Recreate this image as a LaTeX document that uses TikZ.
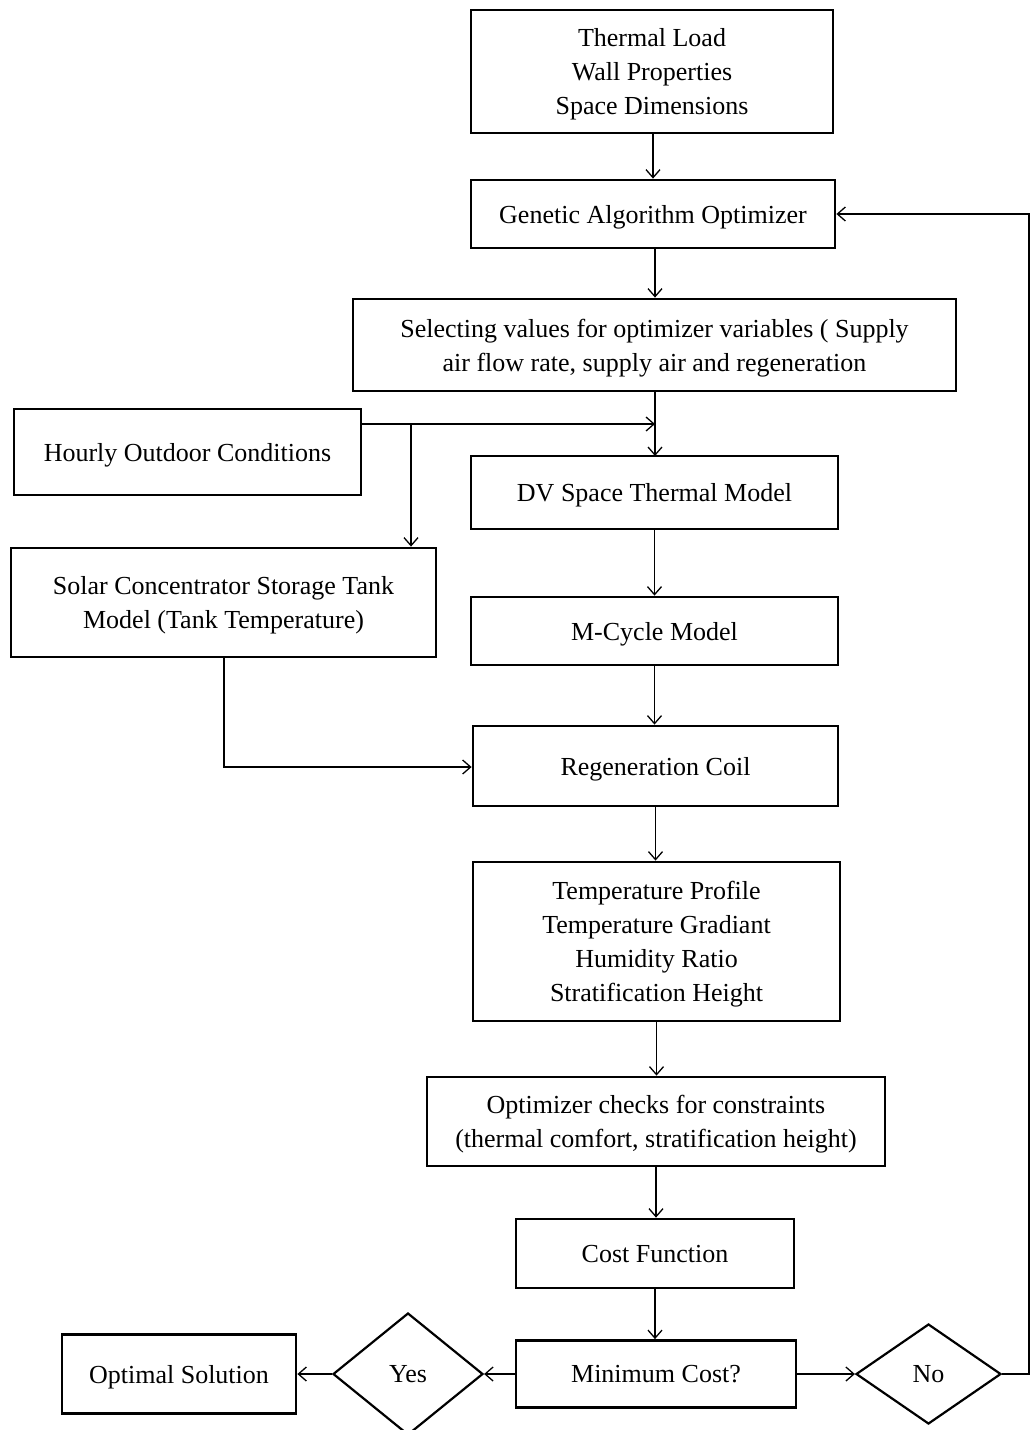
\documentclass[tikz,border=0pt]{standalone}
\usepackage{fontspec}
\setmainfont{Liberation Serif}
\usetikzlibrary{arrows.meta,shapes.geometric}
\begin{document}
\begin{tikzpicture}[x=1pt,y=-1pt,
  box/.style={draw,line width=2.8pt,inner sep=0pt,align=center,text depth=0pt,font=\fontsize{26}{34}\selectfont},
  dia/.style={draw,diamond,line width=2.2pt,inner sep=0pt,text depth=0pt,font=\fontsize{26}{34}\selectfont},
  arr/.style={line width=1.3pt,-{Straight Barb[length=8pt,width=14pt,line width=1.3pt]}},
  ln/.style={line width=1.3pt}]
\useasboundingbox (0,0) rectangle (1030,1430);
\node[box,minimum width=362,minimum height=123] (tl) at (652,71.5) {Thermal Load\\Wall Properties\\Space Dimensions};
\node[box,minimum width=364,minimum height=68] (ga) at (653,214) {Genetic Algorithm Optimizer};
\node[box,minimum width=603,minimum height=92] (sel) at (654.5,345) {Selecting values for optimizer variables ( Supply\\air flow rate, supply air and regeneration};
\node[box,minimum width=347,minimum height=86] (ho) at (187.5,452) {Hourly Outdoor Conditions};
\node[box,minimum width=367,minimum height=73] (dv) at (654.5,492.5) {DV Space Thermal Model};
\node[box,minimum width=425,minimum height=109] (sol) at (223.5,602.5) {Solar Concentrator Storage Tank\\Model (Tank Temperature)};
\node[box,minimum width=367,minimum height=68] (mc) at (654.5,631) {M-Cycle Model};
\node[box,minimum width=365,minimum height=80] (rc) at (655.5,766) {Regeneration Coil};
\node[box,minimum width=367,minimum height=159] (tp) at (656.5,941.5) {Temperature Profile\\Temperature Gradiant\\Humidity Ratio\\Stratification Height};
\node[box,minimum width=458,minimum height=89] (oc) at (656,1121.5) {Optimizer checks for constraints\\(thermal comfort, stratification height)};
\node[box,minimum width=278,minimum height=69] (cf) at (655,1253.5) {Cost Function};
\node[box,minimum width=280,minimum height=67] (min) at (656,1374) {Minimum Cost?};
\node[dia,minimum width=150,minimum height=122] (yes) at (408,1374) {Yes};
\node[dia,minimum width=145,minimum height=100] (no) at (928.5,1374) {No};
\node[box,minimum width=234,minimum height=79] (opt) at (179,1374) {Optimal Solution};
\coordinate (edge) at (1029,1374);
\coordinate (edgetop) at (1029,214);
\coordinate (j) at (655,424);
\coordinate (b) at (411,424);
\coordinate (sc) at (224,767);

\draw[arr] (tl.south -| ga.north) -- (ga.north);
\draw[arr] (655,248) -- (sel.north -| 655,0);
\draw[arr] (655,391) -- (655,456);
\draw[arr] (ho.east |- j) -- (j);
\draw[arr] (b) -- (b |- sol.north);
\draw[arr] (dv.south) -- (mc.north);
\draw[arr] (mc.south) -- (mc.south |- rc.north);
\draw[arr] (rc.south) -- (rc.south |- tp.north);
\draw[arr] (tp.south) -- (tp.south |- oc.north);
\draw[arr] (oc.south) -- (oc.south |- cf.north);
\draw[arr] (cf.south) -- (cf.south |- min.north);
\draw[arr] (sol.south -| sc) -- (sc) -- (rc.west |- sc);
\draw[arr] (min.west) -- (yes.east);
\draw[arr] (yes.west) -- (opt.east);
\draw[arr] (min.east) -- (no.west);
\draw[arr] (no.east) -- (edge) -- (edgetop) -- (ga.east);
\end{tikzpicture}
\end{document}
